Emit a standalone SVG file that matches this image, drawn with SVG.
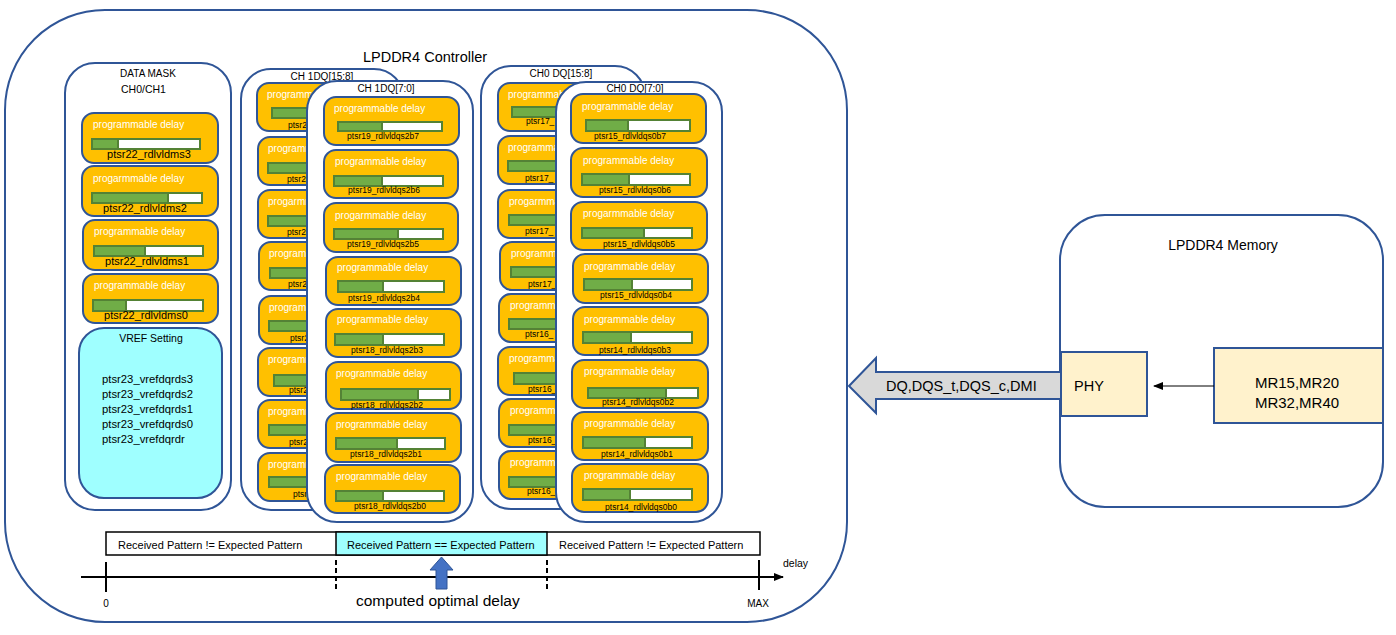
<svg xmlns="http://www.w3.org/2000/svg" width="1396" height="635" viewBox="0 0 1396 635">
<defs>
<style>
.ctr{fill:#fff;stroke:#2F5597;stroke-width:2}
.box{fill:#FFC000;stroke:#2F5597;stroke-width:2}
.bw{fill:#fff;stroke:#548235;stroke-width:2}
.bg{fill:#70AD47;stroke:#548235;stroke-width:2}
text{font-family:"Liberation Sans",Arial,sans-serif;fill:#000}
.pd{font-size:10px;fill:#fff}
.lb{font-size:8.5px;text-anchor:middle}
.lbs{font-size:8.5px}
.dl{font-size:11px;text-anchor:middle}
.ti{font-size:10px;text-anchor:middle}
.vr{font-size:11.3px}
.rp{font-size:11px}
.big{font-size:14.5px}
</style>
<marker id="ah" markerWidth="10" markerHeight="8" refX="9" refY="4" orient="auto" markerUnits="userSpaceOnUse">
<path d="M0,0 L10,4 L0,8 Z" fill="#000"/>
</marker>
</defs>

<g id="controller">
<rect class="ctr" x="5" y="10" width="842" height="612" rx="100" ry="100"/>
<text class="big" x="425" y="62" text-anchor="middle">LPDDR4 Controller</text>
</g>

<g id="data-mask">
<rect class="ctr" x="65" y="63" width="166" height="447" rx="30"/>
<text class="ti" x="148" y="77">DATA MASK</text>
<text x="121" y="93" font-size="10.5">CH0/CH1</text>
</g>
<g id="dm3">
<rect class="box" x="82" y="113" width="136" height="50" rx="12"/>
<text class="pd" x="93" y="128">programmable delay</text>
<rect class="bw" x="92" y="139" width="108" height="10"/><rect class="bg" x="92" y="139" width="26" height="10"/>
<text class="dl" x="149" y="158">ptsr22_rdlvldms3</text>
</g>
<g id="dm2">
<rect class="box" x="82" y="166" width="136" height="50" rx="12"/>
<text class="pd" x="93" y="182">progarmmable delay</text>
<rect class="bw" x="92" y="193" width="110" height="10"/><rect class="bg" x="92" y="193" width="76" height="10"/>
<text class="dl" x="145" y="212">ptsr22_rdlvldms2</text>
</g>
<g id="dm1">
<rect class="box" x="83" y="220" width="135" height="50" rx="12"/>
<text class="pd" x="94" y="235">programmable delay</text>
<rect class="bw" x="94" y="246" width="109" height="10"/><rect class="bg" x="94" y="246" width="51" height="10"/>
<text class="dl" x="147" y="265">ptsr22_rdlvldms1</text>
</g>
<g id="dm0">
<rect class="box" x="83" y="274" width="135" height="49" rx="12"/>
<text class="pd" x="94" y="289">programmable delay</text>
<rect class="bw" x="93" y="300" width="110" height="11"/><rect class="bg" x="93" y="300" width="33" height="11"/>
<text class="dl" x="146" y="319">ptsr22_rdlvldms0</text>
</g>
<g id="vref">
<rect x="79" y="328" width="143" height="170" rx="25" fill="#9FFFFF" stroke="#2F5597" stroke-width="2"/>
<text x="151" y="342" font-size="10.5" text-anchor="middle">VREF Setting</text>
<text class="vr" x="102" y="383">ptsr23_vrefdqrds3</text>
<text class="vr" x="102" y="398">ptsr23_vrefdqrds2</text>
<text class="vr" x="102" y="413">ptsr23_vrefdqrds1</text>
<text class="vr" x="102" y="428">ptsr23_vrefdqrds0</text>
<text class="vr" x="102" y="443">ptsr23_vrefdqrdr</text>
</g>

<g id="ch1-dq15-8">
<rect class="ctr" x="241" y="69" width="163" height="441" rx="30"/>
<text class="ti" x="322" y="80">CH 1DQ[15:8]</text>
<g><rect class="box" x="257" y="83" width="140" height="48" rx="12"/><text class="pd" x="267" y="98">programmable delay</text><rect class="bw" x="272" y="108" width="108" height="10"/><rect class="bg" x="272" y="108" width="70" height="10"/><text class="lbs" x="288" y="128">ptsr2</text></g>
<g><rect class="box" x="258" y="137" width="140" height="48" rx="12"/><text class="pd" x="268" y="152">programmable delay</text><rect class="bw" x="268" y="163" width="108" height="10"/><rect class="bg" x="268" y="163" width="70" height="10"/><text class="lbs" x="287" y="182">ptsr2</text></g>
<g><rect class="box" x="258" y="190" width="140" height="48" rx="12"/><text class="pd" x="268" y="205">progarmmable delay</text><rect class="bw" x="268" y="216" width="108" height="10"/><rect class="bg" x="268" y="216" width="70" height="10"/><text class="lbs" x="287" y="235">ptsr2</text></g>
<g><rect class="box" x="259" y="242" width="140" height="48" rx="12"/><text class="pd" x="269" y="257">programmable delay</text><rect class="bw" x="270" y="268" width="108" height="10"/><rect class="bg" x="270" y="268" width="70" height="10"/><text class="lbs" x="288" y="287">ptsr2</text></g>
<g><rect class="box" x="259" y="296" width="140" height="48" rx="12"/><text class="pd" x="269" y="311">programmable delay</text><rect class="bw" x="269" y="321" width="108" height="10"/><rect class="bg" x="269" y="321" width="70" height="10"/><text class="lbs" x="290" y="341">ptsr2</text></g>
<g><rect class="box" x="258" y="348" width="140" height="48" rx="12"/><text class="pd" x="268" y="363">programmable delay</text><rect class="bw" x="274" y="375" width="108" height="11"/><rect class="bg" x="274" y="375" width="70" height="11"/><text class="lbs" x="289" y="393">ptsr2</text></g>
<g><rect class="box" x="258" y="400" width="140" height="48" rx="12"/><text class="pd" x="268" y="415">programmable delay</text><rect class="bw" x="269" y="425" width="108" height="10"/><rect class="bg" x="269" y="425" width="70" height="10"/><text class="lbs" x="289" y="445">ptsr2</text></g>
<g><rect class="box" x="258" y="453" width="140" height="48" rx="12"/><text class="pd" x="268" y="468">programmable delay</text><rect class="bw" x="269" y="477" width="108" height="10"/><rect class="bg" x="269" y="477" width="70" height="10"/><text class="lbs" x="293" y="497">ptsr2</text></g>
</g>

<g id="ch1-dq7-0">
<rect class="ctr" x="307" y="81" width="166" height="441" rx="30"/>
<text class="ti" x="386" y="92">CH 1DQ[7:0]</text>
<g id="b2b7"><rect class="box" x="324" y="97" width="135" height="48" rx="12"/><text class="pd" x="334" y="112">programmable delay</text><rect class="bw" x="338" y="122" width="104" height="9"/><rect class="bg" x="338" y="122" width="44" height="9"/><text class="lb" x="383" y="139">ptsr19_rdlvldqs2b7</text></g>
<g id="b2b6"><rect class="box" x="324" y="150" width="134" height="48" rx="12"/><text class="pd" x="335" y="165">programmable delay</text><rect class="bw" x="334" y="176" width="109" height="10"/><rect class="bg" x="334" y="176" width="48" height="10"/><text class="lb" x="384" y="193">ptsr19_rdlvldqs2b6</text></g>
<g id="b2b5"><rect class="box" x="324" y="203" width="134" height="49" rx="12"/><text class="pd" x="335" y="219">progarmmable delay</text><rect class="bw" x="334" y="229" width="109" height="10"/><rect class="bg" x="334" y="229" width="64" height="10"/><text class="lb" x="383" y="247">ptsr19_rdlvldqs2b5</text></g>
<g id="b2b4"><rect class="box" x="326" y="257" width="135" height="48" rx="12"/><text class="pd" x="337" y="271">programmable delay</text><rect class="bw" x="338" y="281" width="106" height="11"/><rect class="bg" x="338" y="281" width="45" height="11"/><text class="lb" x="384" y="301">ptsr19_rdlvldqs2b4</text></g>
<g id="b2b3"><rect class="box" x="326" y="309" width="135" height="48" rx="12"/><text class="pd" x="337" y="323">programmable delay</text><rect class="bw" x="335" y="334" width="109" height="11"/><rect class="bg" x="335" y="334" width="48" height="11"/><text class="lb" x="387" y="353">ptsr18_rdlvldqs2b3</text></g>
<g id="b2b2"><rect class="box" x="326" y="362" width="135" height="47" rx="12"/><text class="pd" x="336" y="377">programmable delay</text><rect class="bw" x="341" y="389" width="109" height="11"/><rect class="bg" x="341" y="389" width="77" height="11"/><text class="lb" x="387" y="408">ptsr18_rdlvldqs2b2</text></g>
<g id="b2b1"><rect class="box" x="326" y="413" width="135" height="49" rx="12"/><text class="pd" x="336" y="428">programmable delay</text><rect class="bw" x="336" y="438" width="109" height="11"/><rect class="bg" x="336" y="438" width="61" height="11"/><text class="lb" x="386" y="457">ptsr18_rdlvldqs2b1</text></g>
<g id="b2b0"><rect class="box" x="325" y="465" width="135" height="48" rx="12"/><text class="pd" x="336" y="480">programmable delay</text><rect class="bw" x="336" y="491" width="108" height="10"/><rect class="bg" x="336" y="491" width="47" height="10"/><text class="lb" x="390" y="509">ptsr18_rdlvldqs2b0</text></g>
</g>

<g id="ch0-dq15-8">
<rect class="ctr" x="481" y="66" width="164" height="443" rx="30"/>
<text class="ti" x="561" y="77">CH0 DQ[15:8]</text>
<g><rect class="box" x="498" y="83" width="140" height="48" rx="12"/><text class="pd" x="508" y="98">programmable delay</text><rect class="bw" x="512" y="107" width="108" height="10"/><rect class="bg" x="512" y="107" width="70" height="10"/><text class="lbs" x="526" y="124">ptsr17_</text></g>
<g><rect class="box" x="498" y="136" width="140" height="48" rx="12"/><text class="pd" x="508" y="151">programmable delay</text><rect class="bw" x="508" y="161" width="108" height="10"/><rect class="bg" x="508" y="161" width="70" height="10"/><text class="lbs" x="525" y="181">ptsr17_</text></g>
<g><rect class="box" x="498" y="190" width="140" height="48" rx="12"/><text class="pd" x="509" y="205">progarmmable delay</text><rect class="bw" x="509" y="215" width="108" height="10"/><rect class="bg" x="509" y="215" width="70" height="10"/><text class="lbs" x="525" y="234">ptsr17_</text></g>
<g><rect class="box" x="500" y="242" width="140" height="48" rx="12"/><text class="pd" x="511" y="257">programmable delay</text><rect class="bw" x="511" y="267" width="108" height="10"/><rect class="bg" x="511" y="267" width="70" height="10"/><text class="lbs" x="528" y="287">ptsr17_</text></g>
<g><rect class="box" x="499" y="294" width="140" height="48" rx="12"/><text class="pd" x="510" y="309">programmable delay</text><rect class="bw" x="509" y="319" width="108" height="10"/><rect class="bg" x="509" y="319" width="70" height="10"/><text class="lbs" x="525" y="337">ptsr16_</text></g>
<g><rect class="box" x="498" y="347" width="140" height="48" rx="12"/><text class="pd" x="509" y="362">programmable delay</text><rect class="bw" x="514" y="373" width="108" height="11"/><rect class="bg" x="514" y="373" width="70" height="11"/><text class="lbs" x="528" y="392">ptsr16_</text></g>
<g><rect class="box" x="499" y="399" width="140" height="48" rx="12"/><text class="pd" x="510" y="414">programmable delay</text><rect class="bw" x="509" y="425" width="108" height="10"/><rect class="bg" x="509" y="425" width="70" height="10"/><text class="lbs" x="528" y="443">ptsr16_</text></g>
<g><rect class="box" x="499" y="451" width="140" height="48" rx="12"/><text class="pd" x="510" y="466">programmable delay</text><rect class="bw" x="509" y="477" width="108" height="10"/><rect class="bg" x="509" y="477" width="70" height="10"/><text class="lbs" x="527" y="494">ptsr16_</text></g>
</g>

<g id="ch0-dq7-0">
<rect class="ctr" x="556" y="82" width="166" height="440" rx="30"/>
<text class="ti" x="635" y="92">CH0 DQ[7:0]</text>
<g id="b0b7"><rect class="box" x="571" y="94" width="135" height="49" rx="12"/><text class="pd" x="582" y="110">programmable delay</text><rect class="bw" x="586" y="120" width="104" height="11"/><rect class="bg" x="586" y="120" width="42" height="11"/><text class="lb" x="630" y="139">ptsr15_rdlvldqs0b7</text></g>
<g id="b0b6"><rect class="box" x="571" y="148" width="136" height="49" rx="12"/><text class="pd" x="583" y="164">programmable delay</text><rect class="bw" x="582" y="174" width="108" height="11"/><rect class="bg" x="582" y="174" width="47" height="11"/><text class="lb" x="635" y="193">ptsr15_rdlvldqs0b6</text></g>
<g id="b0b5"><rect class="box" x="571" y="202" width="136" height="48" rx="12"/><text class="pd" x="583" y="217">progarmmable delay</text><rect class="bw" x="582" y="228" width="110" height="10"/><rect class="bg" x="582" y="228" width="62" height="10"/><text class="lb" x="639" y="247">ptsr15_rdlvldqs0b5</text></g>
<g id="b0b4"><rect class="box" x="573" y="254" width="135" height="49" rx="12"/><text class="pd" x="584" y="270">programmable delay</text><rect class="bw" x="584" y="279" width="108" height="11"/><rect class="bg" x="584" y="279" width="48" height="11"/><text class="lb" x="636" y="298">ptsr15_rdlvldqs0b4</text></g>
<g id="b0b3"><rect class="box" x="573" y="307" width="135" height="48" rx="12"/><text class="pd" x="584" y="323">programmable delay</text><rect class="bw" x="583" y="332" width="109" height="11"/><rect class="bg" x="583" y="332" width="48" height="11"/><text class="lb" x="635" y="353">ptsr14_rdlvldqs0b3</text></g>
<g id="b0b2"><rect class="box" x="572" y="360" width="136" height="48" rx="12"/><text class="pd" x="584" y="375">programmable delay</text><rect class="bw" x="588" y="388" width="110" height="10"/><rect class="bg" x="588" y="388" width="78" height="10"/><text class="lb" x="638" y="405">ptsr14_rdlvldqs0b2</text></g>
<g id="b0b1"><rect class="box" x="572" y="412" width="136" height="48" rx="12"/><text class="pd" x="584" y="427">programmable delay</text><rect class="bw" x="583" y="437" width="109" height="11"/><rect class="bg" x="583" y="437" width="62" height="11"/><text class="lb" x="637" y="457">ptsr14_rdlvldqs0b1</text></g>
<g id="b0b0"><rect class="box" x="572" y="464" width="136" height="48" rx="12"/><text class="pd" x="584" y="479">programmable delay</text><rect class="bw" x="583" y="489" width="109" height="11"/><rect class="bg" x="583" y="489" width="47" height="11"/><text class="lb" x="641" y="510">ptsr14_rdlvldqs0b0</text></g>
</g>

<g id="pattern-bar">
<rect x="106" y="532" width="654" height="23" fill="#fff" stroke="#000" stroke-width="1.5"/>
<rect x="336" y="532" width="211" height="23" fill="#9FFFFF" stroke="#000" stroke-width="1.5"/>
<text class="rp" x="118" y="549">Received Pattern != Expected Pattern</text>
<text class="rp" x="347" y="549">Received Pattern == Expected Pattern</text>
<text class="rp" x="559" y="549">Received Pattern != Expected Pattern</text>
</g>

<g id="delay-axis">
<line x1="81" y1="577" x2="783" y2="577" stroke="#000" stroke-width="2" marker-end="url(#ah)"/>
<line x1="106" y1="562" x2="106" y2="592" stroke="#000" stroke-width="2"/>
<line x1="336" y1="560" x2="336" y2="592" stroke="#000" stroke-width="2" stroke-dasharray="5,3"/>
<line x1="547" y1="560" x2="547" y2="592" stroke="#000" stroke-width="2" stroke-dasharray="5,3"/>
<line x1="759" y1="560" x2="759" y2="590" stroke="#000" stroke-width="2"/>
<text x="106" y="607" font-size="10" text-anchor="middle">0</text>
<text x="758" y="607" font-size="10" text-anchor="middle">MAX</text>
<text x="783" y="567" font-size="10.5">delay</text>
<polygon points="441.5,557 453,570 447,570 447,589 436,589 436,570 430,570" fill="#4472C4" stroke="#2F5597" stroke-width="1"/>
<text x="356" y="606" font-size="15.5">computed optimal delay</text>
</g>

<g id="memory">
<rect class="ctr" x="1060" y="215" width="323" height="292" rx="45"/>
<text x="1223" y="250" font-size="14" text-anchor="middle">LPDDR4 Memory</text>
</g>
<g id="phy">
<rect x="1061" y="352" width="86" height="64" fill="#FFF2CC" stroke="#2F5597" stroke-width="2"/>
<text class="big" x="1074" y="391">PHY</text>
</g>
<g id="mr-regs">
<rect x="1214" y="348" width="169" height="75" fill="#FFF2CC" stroke="#2F5597" stroke-width="2"/>
<text x="1297" y="388" font-size="15" text-anchor="middle">MR15,MR20</text>
<text x="1297" y="408" font-size="15" text-anchor="middle">MR32,MR40</text>
</g>

<g id="connectors">
<polygon points="849,386 876,358 876,372 1061,372 1061,399 876,399 876,413" fill="#D9D9D9" stroke="#2F5597" stroke-width="2"/>
<text class="big" x="886" y="391">DQ,DQS_t,DQS_c,DMI</text>
<line x1="1214" y1="386" x2="1154" y2="386" stroke="#000" stroke-width="1" marker-end="url(#ah)"/>
</g>
</svg>
